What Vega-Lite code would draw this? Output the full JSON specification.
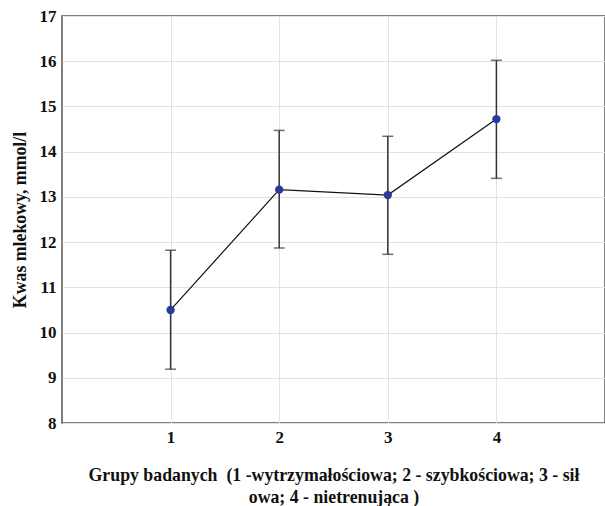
{
  "$schema": "https://vega.github.io/schema/vega-lite/v6.json",
  "width": 543,
  "height": 407,
  "autosize": {"type": "none"},
  "padding": {"left": 62, "top": 16, "right": 0, "bottom": 83},
  "background": "white",
  "config": {
    "view": {"stroke": "#555555", "strokeWidth": 1.5},
    "font": "Liberation Serif"
  },
  "data": {
    "values": [
      {"g": 1, "mean": 10.50, "hi": 11.82, "lo": 9.19},
      {"g": 2, "mean": 13.16, "hi": 14.47, "lo": 11.87},
      {"g": 3, "mean": 13.04, "hi": 14.34, "lo": 11.73},
      {"g": 4, "mean": 14.72, "hi": 16.02, "lo": 13.41}
    ]
  },
  "encoding": {
    "x": {
      "field": "g",
      "type": "quantitative",
      "scale": {"domain": [0, 5], "nice": false, "zero": false},
      "axis": {
        "values": [1, 2, 3, 4],
        "grid": true,
        "gridColor": "#e2e2e2",
        "domain": false,
        "ticks": false,
        "labelFont": "Liberation Serif",
        "labelFontSize": 17,
        "labelFontWeight": "bold",
        "labelColor": "#111111",
        "labelPadding": 6,
        "title": ["Grupy badanych\u00a0 (1 -wytrzymałościowa; 2 - szybkościowa; 3 - sił", "owa; 4 - nietrenująca )"],
        "titleFont": "Liberation Serif",
        "titleFontSize": 17.8,
        "titleFontWeight": "bold",
        "titleColor": "#111111",
        "titleLineHeight": 22,
        "titlePadding": 21
      }
    }
  },
  "layer": [
    {
      "mark": {"type": "rule", "color": "#333333", "strokeWidth": 1.5},
      "encoding": {
        "y": {
          "field": "lo",
          "type": "quantitative",
          "scale": {"domain": [8, 17], "nice": false, "zero": false},
          "axis": {
            "values": [8, 9, 10, 11, 12, 13, 14, 15, 16, 17],
            "grid": true,
            "gridColor": "#e2e2e2",
            "domain": false,
            "ticks": false,
            "labelFont": "Liberation Serif",
            "labelFontSize": 17,
            "labelFontWeight": "bold",
            "labelColor": "#111111",
            "labelPadding": 6,
            "title": "Kwas mlekowy, mmol/l",
            "titleFont": "Liberation Serif",
            "titleFontSize": 17.8,
            "titleFontWeight": "bold",
            "titleColor": "#111111",
            "titlePadding": 10
          }
        },
        "y2": {"field": "hi"}
      }
    },
    {
      "mark": {"type": "tick", "color": "#333333", "size": 11, "thickness": 1.5, "orient": "horizontal"},
      "encoding": {"y": {"field": "hi", "type": "quantitative"}}
    },
    {
      "mark": {"type": "tick", "color": "#333333", "size": 11, "thickness": 1.5, "orient": "horizontal"},
      "encoding": {"y": {"field": "lo", "type": "quantitative"}}
    },
    {
      "mark": {"type": "line", "color": "#111111", "strokeWidth": 1.2},
      "encoding": {"y": {"field": "mean", "type": "quantitative"}}
    },
    {
      "mark": {"type": "point", "filled": true, "color": "#2a3a9c", "opacity": 1, "size": 70},
      "encoding": {"y": {"field": "mean", "type": "quantitative"}}
    }
  ]
}
